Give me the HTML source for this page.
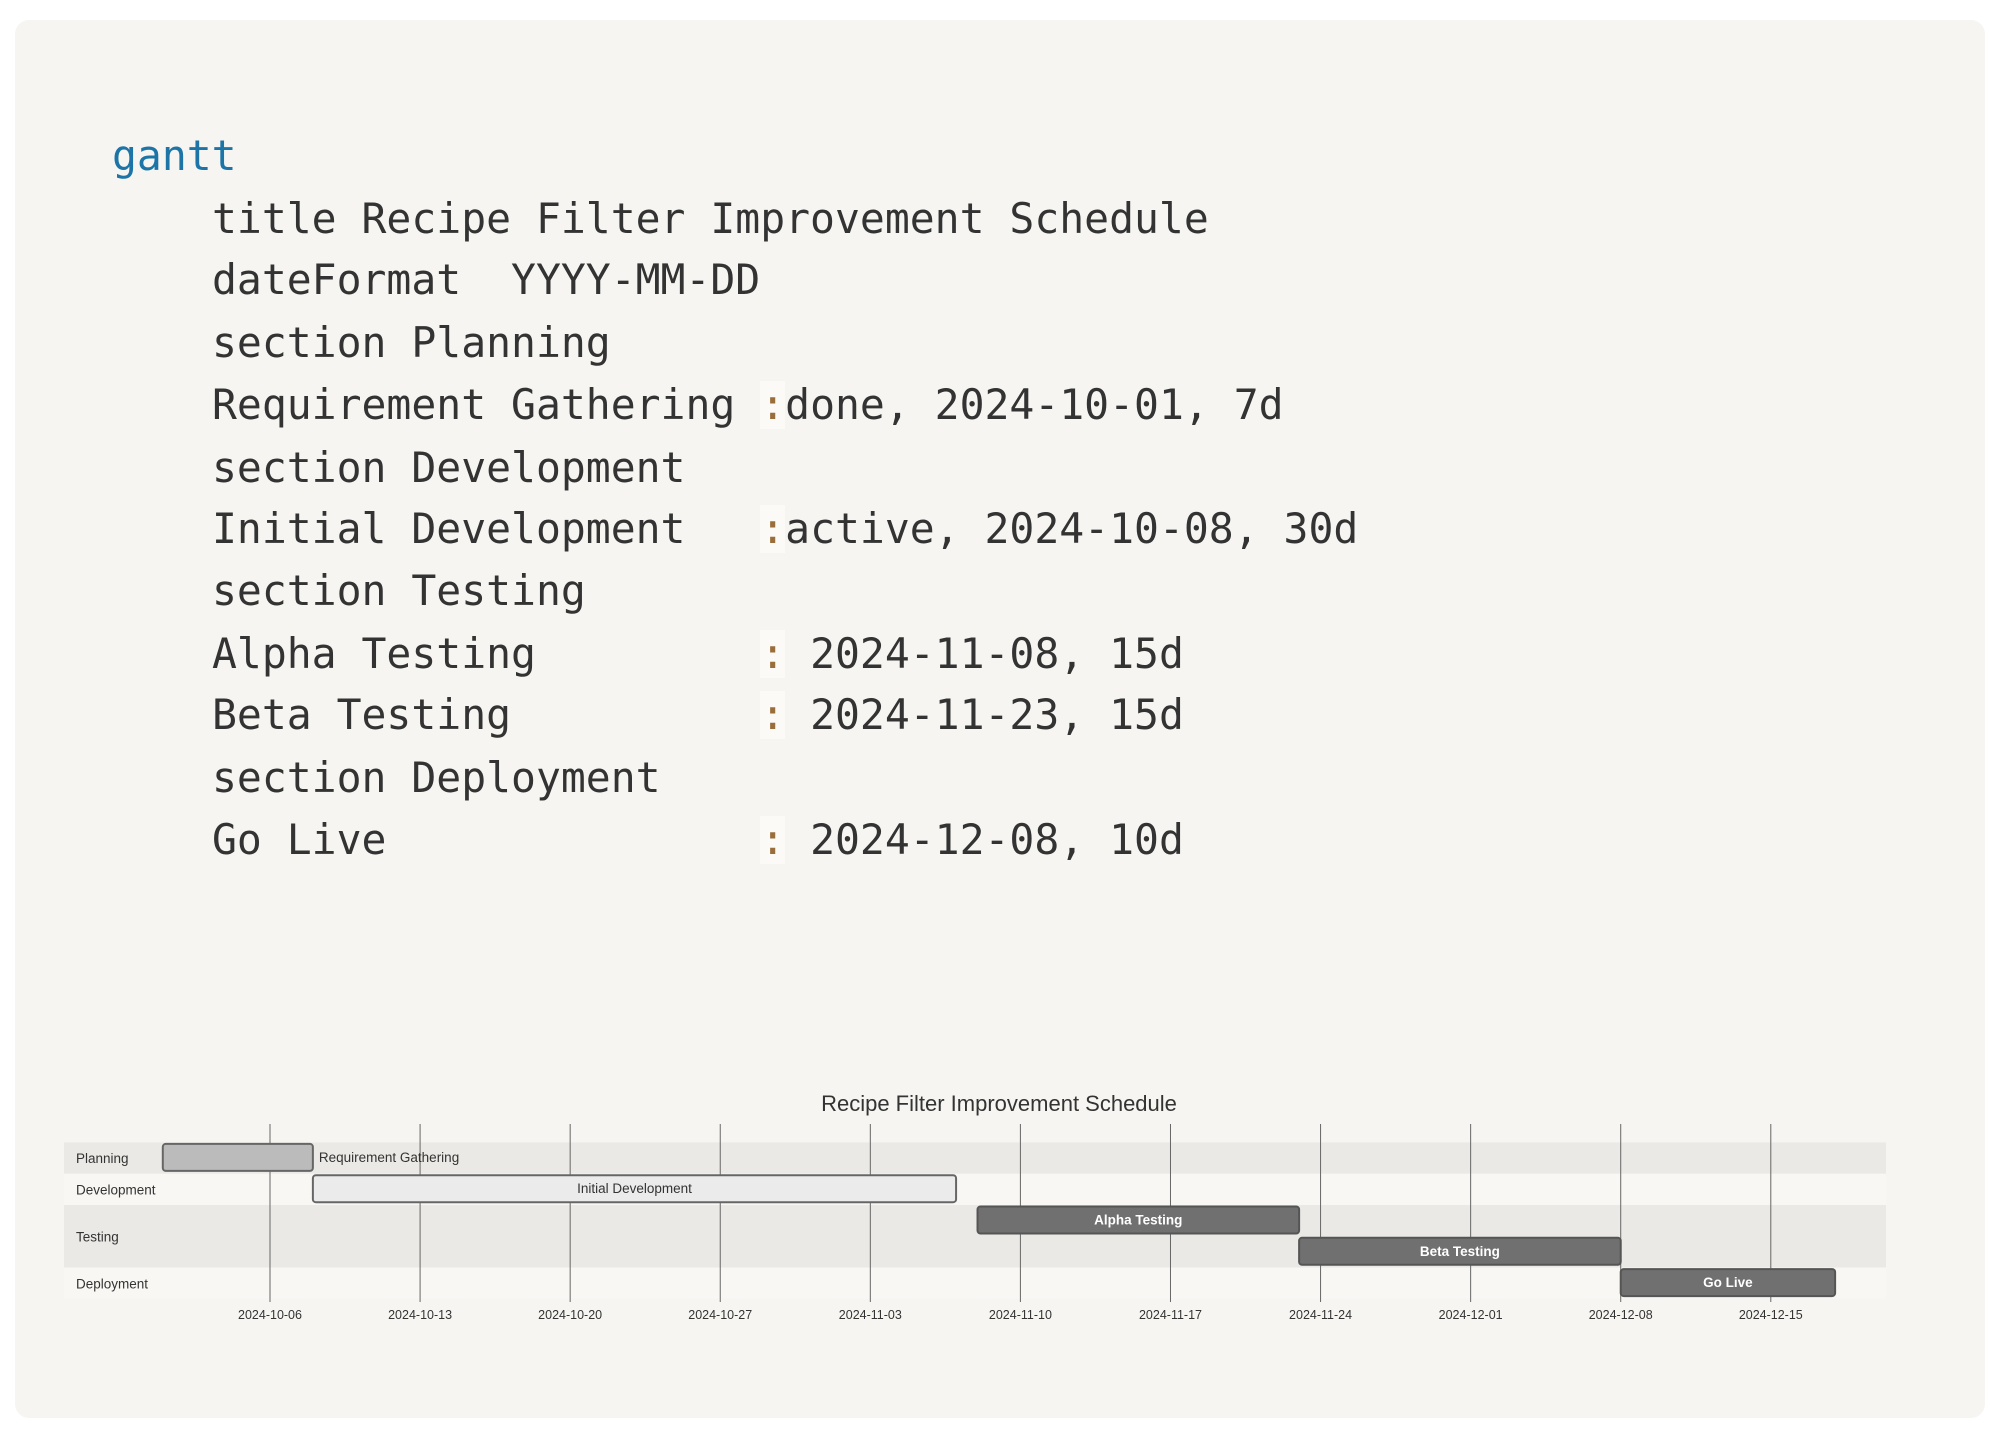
<!DOCTYPE html>
<html><head><meta charset="utf-8"><style>
html,body{margin:0;padding:0;background:#fff;width:2000px;height:1435px;overflow:hidden}
#card{position:absolute;left:15px;top:20px;width:1970px;height:1398px;background:#f6f5f2;border-radius:14px}
#code{position:absolute;left:112px;top:0;font-family:"DejaVu Sans Mono","Liberation Mono",monospace;font-size:41.4px;color:#333;white-space:pre}
.ln{position:absolute;left:0;line-height:1}
.kw{color:#1c75a6}
.col{color:#9a6e3a;background:#fbfaf7}
svg{position:absolute;left:0;top:0}
</style></head><body>
<div id="card"></div>
<div id="code">
<div class="ln kw" style="top:136px">gantt</div>
<div class="ln" style="top:199px;left:100px">title Recipe Filter Improvement Schedule</div>
<div class="ln" style="top:260px;left:100px">dateFormat  YYYY-MM-DD</div>
<div class="ln" style="top:323px;left:100px">section Planning</div>
<div class="ln" style="top:385px;left:100px">Requirement Gathering <span class="col">:</span>done, 2024-10-01, 7d</div>
<div class="ln" style="top:448px;left:100px">section Development</div>
<div class="ln" style="top:509px;left:100px">Initial Development   <span class="col">:</span>active, 2024-10-08, 30d</div>
<div class="ln" style="top:571px;left:100px">section Testing</div>
<div class="ln" style="top:634px;left:100px">Alpha Testing         <span class="col">:</span> 2024-11-08, 15d</div>
<div class="ln" style="top:695px;left:100px">Beta Testing          <span class="col">:</span> 2024-11-23, 15d</div>
<div class="ln" style="top:758px;left:100px">section Deployment</div>
<div class="ln" style="top:820px;left:100px">Go Live               <span class="col">:</span> 2024-12-08, 10d</div>
</div>
<svg id="chart" width="2000" height="1435"></svg>
<script>
const taskNames = ["Requirement Gathering","Initial Development","Alpha Testing","Beta Testing","Go Live"];
const taskStarts = ["2024-10-01","2024-10-08","2024-11-08","2024-11-23","2024-12-08"];
const taskDays = [7,30,15,15,10];
const taskStatus = ["done","active","normal","normal","normal"];
const taskRows = [0,1,2,3,4];
const sectionNames = ["Planning","Development","Testing","Deployment"];
const sectionRowStart = [0,1,2,4];
const sectionRowCount = [1,1,2,1];
const tickLabels = ["2024-10-06","2024-10-13","2024-10-20","2024-10-27","2024-11-03","2024-11-10","2024-11-17","2024-11-24","2024-12-01","2024-12-08","2024-12-15"];

const NS="http://www.w3.org/2000/svg";
const svg=document.getElementById('chart');
const day0=Date.UTC(2024,9,6), X0=270, PXD=21.44;
function xs(d){const p=d.split('-').map(Number);return X0+(Date.UTC(p[0],p[1]-1,p[2])-day0)/86400000*PXD;}
const ROW0=1142.4, RH=31.3;
function ys(r){return ROW0+r*RH;}
function mk(tag,attrs){const e=document.createElementNS(NS,tag);for(const k in attrs)e.setAttribute(k,attrs[k]);svg.appendChild(e);return e;}
const FONT='"Liberation Sans","DejaVu Sans",sans-serif';

sectionNames.forEach((s,i)=>{
  const r=mk('rect',{x:64,y:ys(sectionRowStart[i]),width:1822,height:sectionRowCount[i]*RH,fill:i%2===0?'#ebe9e5':'#f8f7f4'});
  
  
});
tickLabels.forEach(t=>{
  const x=xs(t);
  const l=mk('line',{x1:x,x2:x,y1:1124,y2:1302,stroke:'#666','stroke-width':1});
  
  
  const tx=mk('text',{x:x,y:1319,'text-anchor':'middle','font-family':FONT,'font-size':12.5,fill:'#333'});
  tx.textContent=t;
  
  
});
sectionNames.forEach((s,i)=>{
  const y=ys(sectionRowStart[i])+sectionRowCount[i]*RH/2+5;
  const t=mk('text',{x:76,y:y,'font-family':FONT,'font-size':13.5,fill:'#333'});
  t.textContent=s;
  
  
});
const fills={done:'#bbbbbb',active:'#ebebeb',normal:'#707070'};
taskNames.forEach((n,i)=>{
  const x1=xs(taskStarts[i]), w=taskDays[i]*PXD, y=ys(taskRows[i])+1.5;
  const r=mk('rect',{x:x1,y:y,width:w,height:27,rx:3,fill:fills[taskStatus[i]],stroke:taskStatus[i]==='normal'?'#555':'#666','stroke-width':2});
  
  
  const outside=taskStatus[i]==='done';
  const t=mk('text',{x:outside?x1+w+6:x1+w/2,y:y+18,'text-anchor':outside?'start':'middle','font-family':FONT,'font-size':13.5,fill:taskStatus[i]==='normal'?'#fff':'#333','font-weight':taskStatus[i]==='normal'?'bold':'normal'});
  t.textContent=n;
  
  
});
const title=mk('text',{x:999,y:1111,'text-anchor':'middle','font-family':FONT,'font-size':22,fill:'#333'});
title.textContent="Recipe Filter Improvement Schedule";


</script>
</body></html>
